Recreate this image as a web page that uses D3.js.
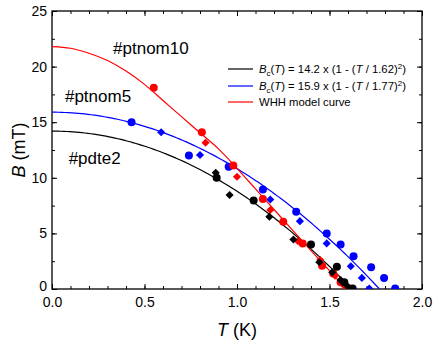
<!DOCTYPE html>
<html>
<head>
<meta charset="utf-8">
<script src="https://cdn.jsdelivr.net/npm/d3@7"></script>
<style>
  body { margin: 0; background: #fff; }
  text { font-family: "Liberation Sans", Arial, sans-serif; }
</style>
</head>
<body>
<script>
// measured points, [T (K), B (mT)]
var redCircles = [[0.55,18.1],[0.81,14.1],[0.98,11.1],[1.14,8.1],[1.25,6.05],[1.355,4.1],[1.46,2.1],[1.52,1.4],[1.56,0.6],[1.6,0.1]];
var redDiamonds = [[0.83,13.15],[1.0,10.1],[1.18,7.1],[1.33,4.3],[1.45,2.6],[1.53,1.2],[1.58,0.3]];
var blackCircles = [[0.89,10.0],[1.09,7.95],[1.4,4.0],[1.54,2.0],[1.58,0.6],[1.625,0.05]];
var blackDiamonds = [[0.885,10.45],[0.96,8.45],[1.175,6.5],[1.305,4.45],[1.445,2.4],[1.515,1.5],[1.56,0.8],[1.6,0.2]];
var blueCircles = [[0.43,15.0],[0.74,12.0],[0.955,11.0],[1.14,8.95],[1.32,6.95],[1.485,5.0],[1.56,4.0],[1.63,2.95],[1.725,1.95],[1.795,1.0],[1.855,0.05]];
var blueDiamonds = [[0.59,14.1],[0.8,12.05],[1.18,8.05],[1.34,6.1],[1.485,4.1],[1.615,2.05],[1.675,1.0],[1.715,0.05]];

// WHH model curve
var whhT = [0, 0.1, 0.2, 0.3, 0.4, 0.5, 0.6, 0.7, 0.8, 0.9, 1.0, 1.1, 1.2, 1.3, 1.4, 1.5, 1.59];
var whhB = [21.8, 21.65, 21.2, 20.55, 19.6, 18.4, 16.95, 15.5, 14.05, 12.6, 10.85, 9.0, 7.15, 5.3, 3.45, 1.65, 0];

// fit parameters from the legend: Bc(T) = B0 (1 - (T/Tc)^2)
var fitB0 = [14.2, 15.9];
var fitTc = [1.62, 1.77];

var xTicks = [0, 0.5, 1.0, 1.5, 2.0];
var yTicks = [0, 5, 10, 15, 20, 25];
var sampleLabels = ["#ptnom10", "#ptnom5", "#pdte2"];

var width = 436, height = 342;
var margin = {left: 52, right: 14, top: 11, bottom: 53};

var svg = d3.select("body").append("svg")
    .attr("width", width)
    .attr("height", height);

var x = d3.scaleLinear().domain([0, 2]).range([margin.left, width - margin.right]);
var y = d3.scaleLinear().domain([0, 25]).range([height - margin.bottom, margin.top]);

svg.append("clipPath").attr("id", "clip")
  .append("rect")
    .attr("x", x(0)).attr("y", y(25))
    .attr("width", x(2) - x(0)).attr("height", y(0) - y(25));

// axes, ticks inward on all four sides
var xMinor = d3.range(0, 2.001, 0.1), yMinor = d3.range(0, 25.01, 2.5);

var axB = svg.append("g").attr("transform", `translate(0,${y(0)})`);
axB.append("g").call(d3.axisTop(x).tickValues(xMinor).tickSize(3).tickFormat(""));
axB.append("g").call(d3.axisTop(x).tickValues(xTicks).tickSize(5).tickFormat(""));
axB.append("g").call(d3.axisBottom(x).tickValues(xTicks).tickSize(0).tickPadding(8).tickFormat(d3.format(".1f")));

var axT = svg.append("g").attr("transform", `translate(0,${y(25)})`);
axT.append("g").call(d3.axisBottom(x).tickValues(xMinor).tickSize(3).tickFormat(""));
axT.append("g").call(d3.axisBottom(x).tickValues(xTicks).tickSize(5).tickFormat(""));

var axL = svg.append("g").attr("transform", `translate(${x(0)},0)`);
axL.append("g").call(d3.axisRight(y).tickValues(yMinor).tickSize(3).tickFormat(""));
axL.append("g").call(d3.axisRight(y).tickValues(yTicks).tickSize(5).tickFormat(""));
var yLabels = axL.append("g").call(d3.axisLeft(y).tickValues(yTicks).tickSize(0).tickPadding(5).tickFormat(d3.format("d")));
// lift the "0" a little so it clears "0.0" below it
yLabels.selectAll(".tick text").filter(d => d === 0).attr("dy", "0.1em");

var axR = svg.append("g").attr("transform", `translate(${x(2)},0)`);
axR.append("g").call(d3.axisLeft(y).tickValues(yMinor).tickSize(3).tickFormat(""));
axR.append("g").call(d3.axisLeft(y).tickValues(yTicks).tickSize(5).tickFormat(""));

svg.selectAll(".domain").remove();
svg.selectAll(".tick line").attr("stroke", "#000").attr("stroke-width", 1);
svg.selectAll(".tick text").attr("font-size", 14).attr("fill", "#000")
    .style("font-family", "'Liberation Sans', Arial, sans-serif");

svg.append("rect")
    .attr("x", x(0)).attr("y", y(25))
    .attr("width", x(2) - x(0)).attr("height", y(0) - y(25))
    .attr("fill", "none").attr("stroke", "#000").attr("stroke-width", 1.3);

// curves
var line = d3.line().x(d => x(d[0])).y(d => y(d[1]));
var plot = svg.append("g").attr("clip-path", "url(#clip)");

var fitColors = ["#000000", "#0000ff"];
fitB0.forEach((b0, i) => {
  var tc = fitTc[i];
  var pts = d3.range(0, 101).map(k => {
    var t = tc * k / 100;
    return [t, b0 * (1 - (t / tc) * (t / tc))];
  });
  plot.append("path")
      .attr("d", line(pts))
      .attr("fill", "none").attr("stroke", fitColors[i]).attr("stroke-width", 1.2);
});

plot.append("path")
    .attr("d", line.curve(d3.curveMonotoneX)(whhT.map((t, i) => [t, whhB[i]])))
    .attr("fill", "none").attr("stroke", "#ff0000").attr("stroke-width", 1.2);

// markers
var diamond = d3.symbol().type(d3.symbolDiamond2).size(42);
function drawPoints(data, color, shape) {
  var g = plot.append("g");
  if (shape === "circle") {
    g.selectAll("circle").data(data).enter().append("circle")
        .attr("cx", d => x(d[0])).attr("cy", d => y(d[1]))
        .attr("r", 4).attr("fill", color);
  } else {
    g.selectAll("path").data(data).enter().append("path")
        .attr("d", diamond)
        .attr("transform", d => `translate(${x(d[0])},${y(d[1])})`)
        .attr("fill", color);
  }
}
drawPoints(blueCircles, "#0000ff", "circle");
drawPoints(blueDiamonds, "#0000ff", "diamond");
drawPoints(redCircles, "#ff0000", "circle");
drawPoints(redDiamonds, "#ff0000", "diamond");
drawPoints(blackCircles, "#000000", "circle");
drawPoints(blackDiamonds, "#000000", "diamond");

// sample labels
var labelPos = [[0.33, 21.1], [0.07, 16.8], [0.09, 11.2]];
svg.append("g").selectAll("text").data(sampleLabels).enter().append("text")
    .attr("x", (d, i) => x(labelPos[i][0]))
    .attr("y", (d, i) => y(labelPos[i][1]))
    .attr("font-size", 17)
    .text(d => d);

// legend
var legend = svg.append("g").attr("font-size", 11.3);
var legendColors = ["#000000", "#0000ff", "#ff0000"];
var ly = [69, 86, 102];
legendColors.forEach((c, i) => {
  legend.append("line")
      .attr("x1", 228).attr("x2", 253)
      .attr("y1", ly[i]).attr("y2", ly[i])
      .attr("stroke", c).attr("stroke-width", 1.2);
});
fitB0.forEach((b0, i) => {
  var t = legend.append("text").attr("x", 259).attr("y", ly[i] + 4);
  t.append("tspan").attr("font-style", "italic").text("B");
  t.append("tspan").attr("font-size", 8).attr("dy", 3).text("c");
  t.append("tspan").attr("dy", -3).text("(");
  t.append("tspan").attr("font-style", "italic").text("T");
  t.append("tspan").text(`) = ${b0} x (1 - (`);
  t.append("tspan").attr("font-style", "italic").text("T");
  t.append("tspan").text(` / ${fitTc[i]})`);
  t.append("tspan").attr("font-size", 8).attr("dy", -4).text("2");
  t.append("tspan").attr("dy", 4).text(")");
});
legend.append("text").attr("x", 259).attr("y", ly[2] + 4).text("WHH model curve");

// axis titles
var xt = svg.append("text")
    .attr("x", x(1)).attr("y", 336)
    .attr("text-anchor", "middle").attr("font-size", 18);
xt.append("tspan").attr("font-style", "italic").text("T");
xt.append("tspan").text(" (K)");

var yt = svg.append("text")
    .attr("transform", `translate(25,${y(12.5)}) rotate(-90)`)
    .attr("text-anchor", "middle").attr("font-size", 18);
yt.append("tspan").attr("font-style", "italic").text("B");
yt.append("tspan").text(" (mT)");
</script>
</body>
</html>
